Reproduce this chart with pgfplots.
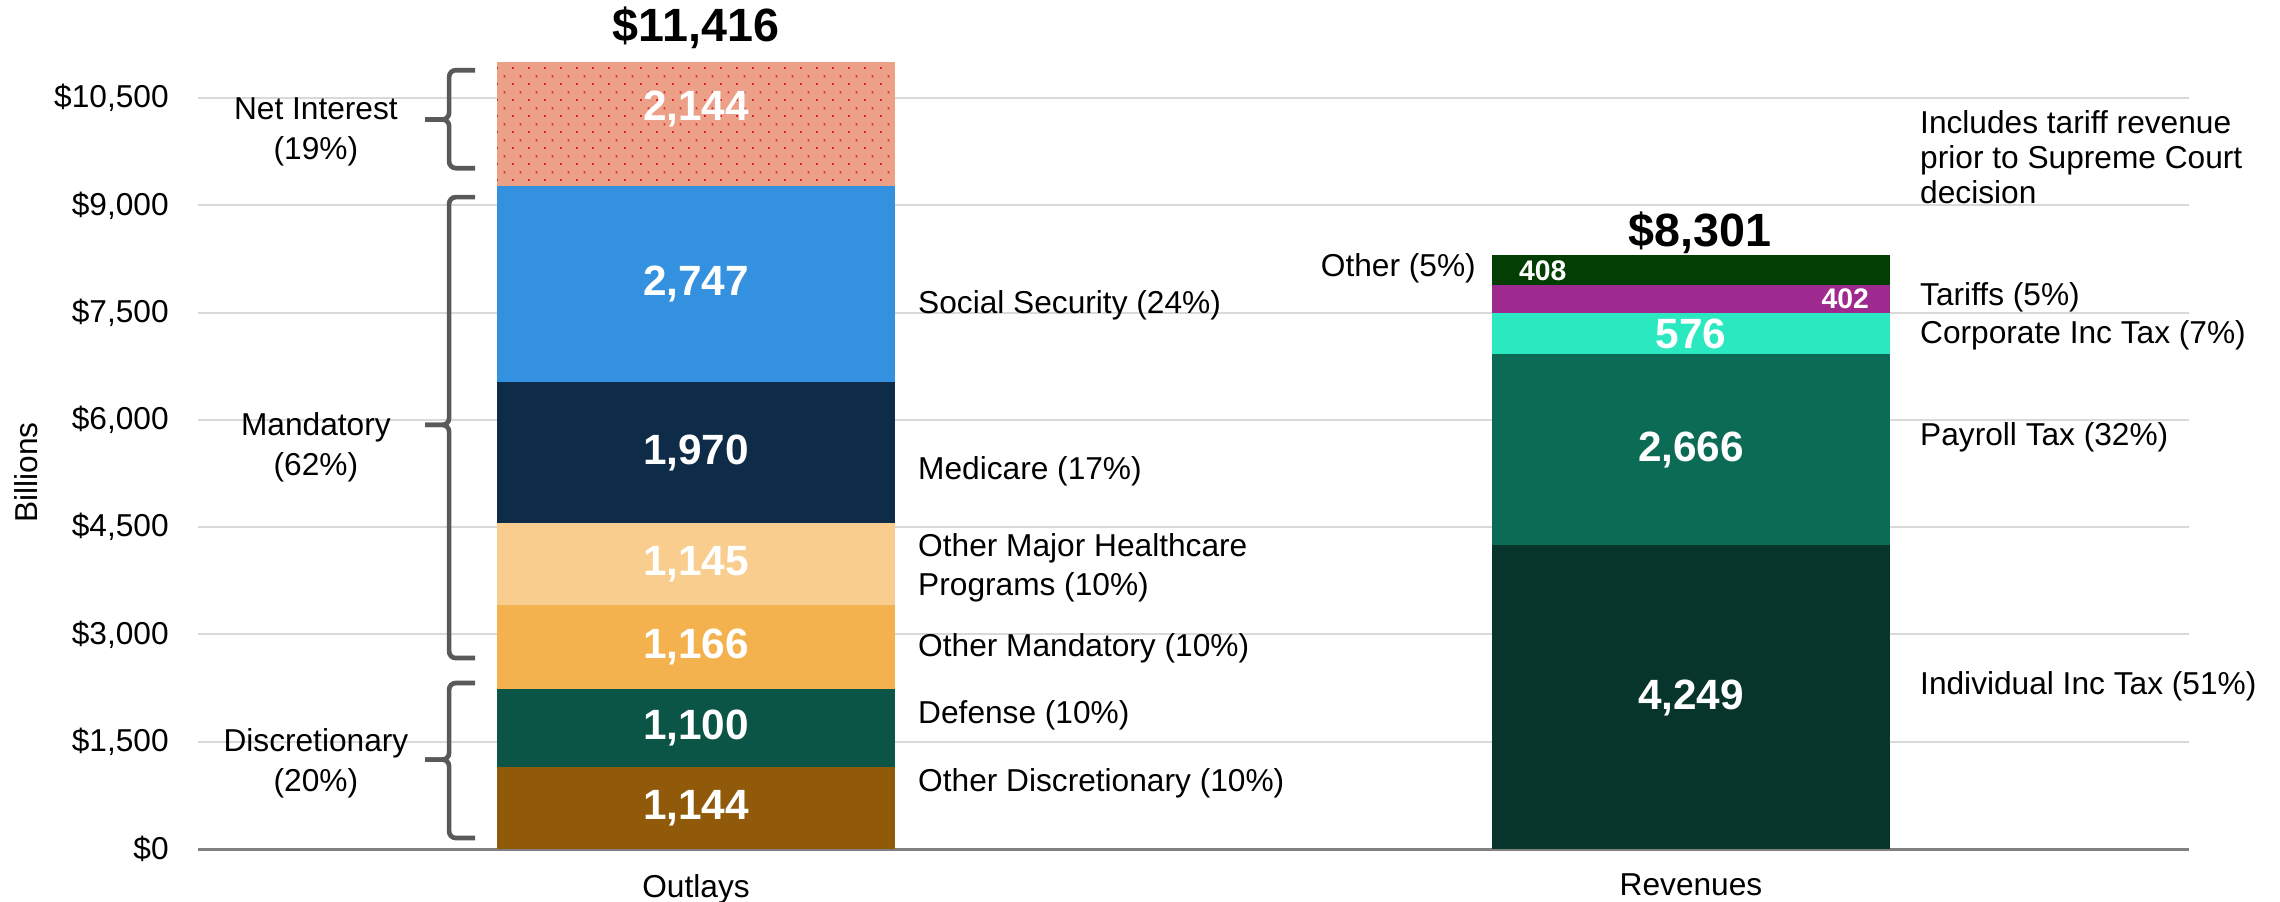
\documentclass[border=0pt]{standalone}
\usepackage{pgfplots}
\pgfplotsset{compat=1.18}
\usepackage{fontspec}
\setmainfont{Liberation Sans}
\usetikzlibrary{patterns,calc}

\definecolor{ni}{HTML}{ECA088}
\definecolor{nidot}{HTML}{D62828}
\definecolor{ss}{HTML}{3391DF}
\definecolor{med}{HTML}{0E2B47}
\definecolor{omh}{HTML}{F8CD8E}
\definecolor{om}{HTML}{F4B24F}
\definecolor{def}{HTML}{0A5546}
\definecolor{od}{HTML}{915A0A}
\definecolor{iit}{HTML}{07352B}
\definecolor{pay}{HTML}{0C6B55}
\definecolor{corp}{HTML}{2AE8C0}
\definecolor{tar}{HTML}{9E2A8F}
\definecolor{oth}{HTML}{033E02}
\definecolor{brgray}{HTML}{595959}
\definecolor{gridgray}{HTML}{D9D9D9}
\definecolor{axgray}{HTML}{808080}

\pgfdeclarepatterninherentlycolored{edotsred}{\pgfpointorigin}{\pgfqpoint{4.8pt}{4.8pt}}{\pgfqpoint{4.8pt}{4.8pt}}{%
  \pgfsetfillcolor{nidot}%
  \pgfpathrectangle{\pgfqpoint{0pt}{0pt}}{\pgfqpoint{0.62pt}{0.62pt}}%
  \pgfpathrectangle{\pgfqpoint{2.4pt}{2.4pt}}{\pgfqpoint{0.62pt}{0.62pt}}%
  \pgfusepath{fill}}

\newcommand\lab{\fontsize{9.5}{11.7}\selectfont}
\newcommand\vbig{\fontsize{12.7}{14}\selectfont\bfseries}
\newcommand\vsml{\fontsize{8.5}{10}\selectfont\bfseries}
\newcommand\vtot{\fontsize{14}{16}\selectfont\bfseries}

% brace from named coordinates: bottom, middle (tip), top
\newcommand\mybrace[3]{%
  \draw[brgray, line width=1.4pt, rounded corners=2pt]
    (#3) -- ($(#3)+(-7.8pt,0)$) -- ($(#2)+(-7.8pt,0)$) -- ($(#2)+(-15pt,0)$);
  \draw[brgray, line width=1.4pt, rounded corners=2pt]
    (#1) -- ($(#1)+(-7.8pt,0)$) -- ($(#2)+(-7.8pt,0)$) -- ($(#2)+(-15pt,0)$);
}

\begin{document}
\begin{tikzpicture}
\begin{axis}[
  at={(0,0)}, anchor=south west,
  scale only axis, width=597pt, height=236pt,
  ybar stacked, bar width=0.4,
  xmin=-0.5, xmax=1.5, ymin=0, ymax=11000,
  enlargelimits=false,
  clip mode=individual,
  scaled y ticks=false,
  axis x line*=bottom, axis y line*=left,
  y axis line style={draw=none},
  x axis line style={draw=axgray, line width=0.9pt},
  major tick length=0pt,
  xtick={0,1}, xticklabels={Outlays,Revenues},
  ytick={0,1500,3000,4500,6000,7500,9000,10500},
  yticklabels={{\$0},{\$1,500},{\$3,000},{\$4,500},{\$6,000},{\$7,500},{\$9,000},{\$10,500}},
  tick label style={font=\lab, text=black},
  yticklabel style={xshift=-5.4pt},
  xticklabel style={yshift=-4pt},
  ymajorgrids, major grid style={draw=gridgray, line width=0.6pt},
]
% Outlays
\addplot[fill=od, draw=none] coordinates {(0,1144) (1,0)};
\addplot[fill=def, draw=none] coordinates {(0,1100) (1,0)};
\addplot[fill=om, draw=none] coordinates {(0,1166) (1,0)};
\addplot[fill=omh, draw=none] coordinates {(0,1145) (1,0)};
\addplot[fill=med, draw=none] coordinates {(0,1970) (1,0)};
\addplot[fill=ss, draw=none] coordinates {(0,2747) (1,0)};
\addplot[fill=ni, draw=none, postaction={pattern=edotsred}] coordinates {(0,2144) (1,0)};
% Revenues
\addplot[fill=iit, draw=none] coordinates {(0,0) (1,4249)};
\addplot[fill=pay, draw=none] coordinates {(0,0) (1,2666)};
\addplot[fill=corp, draw=none] coordinates {(0,0) (1,576)};
\addplot[fill=tar, draw=none] coordinates {(0,0) (1,402)};
\addplot[fill=oth, draw=none] coordinates {(0,0) (1,408)};

% anchor points for annotations
\coordinate (v1) at (axis cs:0,572);
\coordinate (v2) at (axis cs:0,1694);
\coordinate (v3) at (axis cs:0,2827);
\coordinate (v4) at (axis cs:0,3982);
\coordinate (v5) at (axis cs:0,5540);
\coordinate (v6) at (axis cs:0,7898);
\coordinate (v7) at (axis cs:0,10344);
\coordinate (r1) at (axis cs:1,2110);
\coordinate (r2) at (axis cs:1,5582);
\coordinate (r3) at (axis cs:1,7200);
\coordinate (r4) at (axis cs:1.155,7700);
\coordinate (r5) at (axis cs:0.851,8080);
\coordinate (t1) at (axis cs:0,11480);
\coordinate (t2) at (axis cs:1.009,8612);
\coordinate (o1) at (axis cs:0.2115,7605);
\coordinate (o2) at (axis cs:0.2115,5284);
\coordinate (o3) at (axis cs:0.2115,3935);
\coordinate (o4) at (axis cs:0.2115,2810);
\coordinate (o5) at (axis cs:0.2115,1873);
\coordinate (o6) at (axis cs:0.2115,923);
\coordinate (n0) at (axis cs:1.2185,9674);
\coordinate (n1) at (axis cs:1.2185,7717);
\coordinate (n2) at (axis cs:1.2185,7186);
\coordinate (n3) at (axis cs:1.2185,5760);
\coordinate (n4) at (axis cs:1.2185,2269);
\coordinate (n5) at (axis cs:0.7955,8122);
\coordinate (g1) at (axis cs:-0.382,10024);
\coordinate (g2) at (axis cs:-0.382,5613);
\coordinate (g3) at (axis cs:-0.382,1202);
\coordinate (b1a) at (axis cs:-0.222,9520);
\coordinate (b1b) at (axis cs:-0.222,10201);
\coordinate (b1c) at (axis cs:-0.222,10890);
\coordinate (b2a) at (axis cs:-0.222,2670);
\coordinate (b2b) at (axis cs:-0.222,5930);
\coordinate (b2c) at (axis cs:-0.222,9115);
\coordinate (b3a) at (axis cs:-0.222,154);
\coordinate (b3b) at (axis cs:-0.222,1250);
\coordinate (b3c) at (axis cs:-0.222,2321);
\coordinate (yl) at (axis cs:-0.673,5262);
\end{axis}

% value labels
\node[text=white, font=\vbig] at (v1) {1,144};
\node[text=white, font=\vbig] at (v2) {1,100};
\node[text=white, font=\vbig] at (v3) {1,166};
\node[text=white, font=\vbig] at (v4) {1,145};
\node[text=white, font=\vbig] at (v5) {1,970};
\node[text=white, font=\vbig] at (v6) {2,747};
\node[text=white, font=\vbig] at (v7) {2,144};
\node[text=white, font=\vbig] at (r1) {4,249};
\node[text=white, font=\vbig] at (r2) {2,666};
\node[text=white, font=\vbig] at (r3) {576};
\node[text=white, font=\vsml] at (r4) {402};
\node[text=white, font=\vsml] at (r5) {408};
\node[font=\vtot] at (t1) {\$11,416};
\node[font=\vtot] at (t2) {\$8,301};

% outlay category labels
\node[anchor=west, font=\lab] at (o1) {Social Security (24\%)};
\node[anchor=west, font=\lab] at (o2) {Medicare (17\%)};
\node[anchor=west, font=\lab, align=left] at (o3) {Other Major Healthcare\\Programs (10\%)};
\node[anchor=west, font=\lab] at (o4) {Other Mandatory (10\%)};
\node[anchor=west, font=\lab] at (o5) {Defense (10\%)};
\node[anchor=west, font=\lab] at (o6) {Other Discretionary (10\%)};

% revenue labels
\node[anchor=west, font={\fontsize{9.5}{10.4}\selectfont}, align=left] at (n0) {Includes tariff revenue\\prior to Supreme Court\\decision};
\node[anchor=west, font=\lab] at (n1) {Tariffs (5\%)};
\node[anchor=west, font=\lab] at (n2) {Corporate Inc Tax (7\%)};
\node[anchor=west, font=\lab] at (n3) {Payroll Tax (32\%)};
\node[anchor=west, font=\lab] at (n4) {Individual Inc Tax (51\%)};
\node[anchor=east, font=\lab] at (n5) {Other (5\%)};

% group labels
\node[font={\fontsize{9.5}{12}\selectfont}, align=center] at (g1) {Net Interest\\(19\%)};
\node[font={\fontsize{9.5}{12}\selectfont}, align=center] at (g2) {Mandatory\\(62\%)};
\node[font={\fontsize{9.5}{12}\selectfont}, align=center] at (g3) {Discretionary\\(20\%)};

% braces
\mybrace{b1a}{b1b}{b1c}
\mybrace{b2a}{b2b}{b2c}
\mybrace{b3a}{b3b}{b3c}

% axis title
\node[rotate=90, font=\lab] at (yl) {Billions};

\pgfresetboundingbox
\path[use as bounding box] (-59.55pt,-15.6pt) rectangle (624.45pt,254.7pt);
\end{tikzpicture}
\end{document}
